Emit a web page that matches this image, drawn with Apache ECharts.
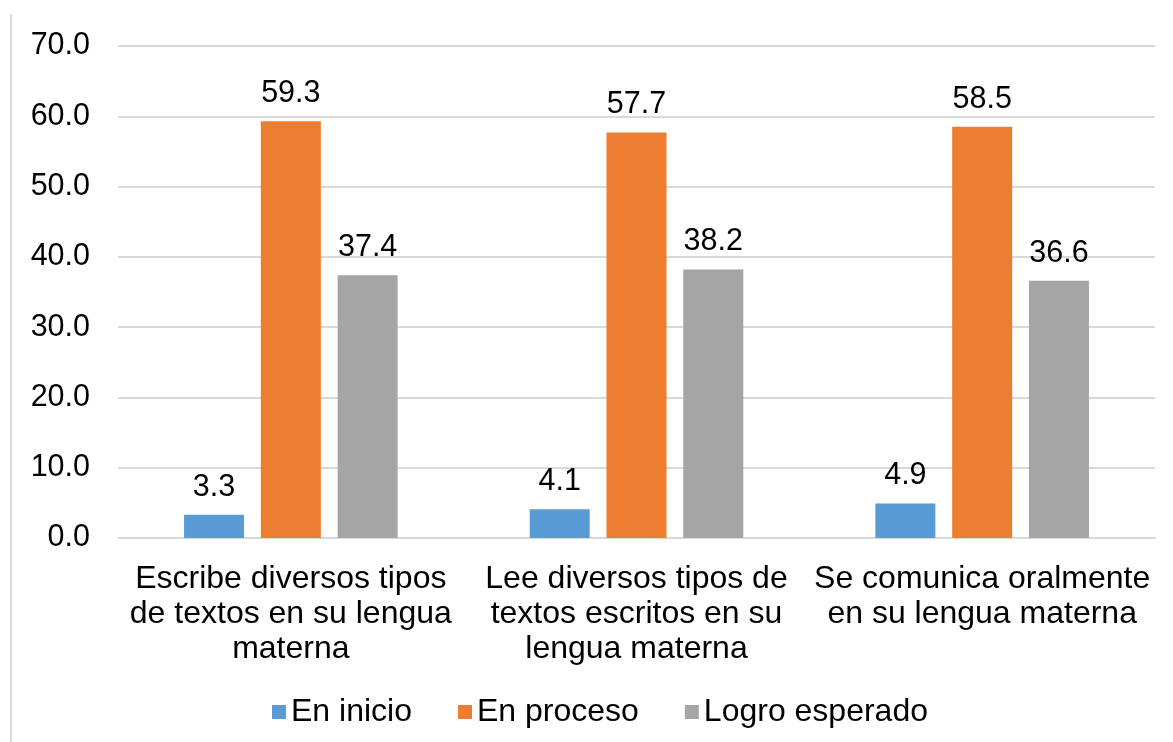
<!DOCTYPE html>
<html>
<head>
<meta charset="utf-8">
<script src="https://cdn.jsdelivr.net/npm/echarts@6/dist/echarts.min.js"></script>
<style>
  html, body { margin: 0; padding: 0; background: #fff; }
  #chart { width: 1173px; height: 742px; }
</style>
</head>
<body>
<div id="chart"></div>
<script>
const categories = [
    'Escribe diversos tipos\nde textos en su lengua\nmaterna',
    'Lee diversos tipos de\ntextos escritos en su\nlengua materna',
    'Se comunica oralmente\nen su lengua materna'
];
const seriesNames = ['En inicio', 'En proceso', 'Logro esperado'];
const enInicio    = [3.3, 4.1, 4.9];
const enProceso   = [59.3, 57.7, 58.5];
const logro       = [37.4, 38.2, 36.6];
const colors      = ['#5B9BD5', '#ED7D31', '#A5A5A5'];

const font = 'Liberation Sans, Arial, sans-serif';

const chart = echarts.init(document.getElementById('chart'), null, { renderer: 'canvas' });

const makeSeries = (name, data, color) => ({
    name,
    type: 'bar',
    data,
    barWidth: 60,
    barGap: '28%',
    itemStyle: { color },
    label: {
        show: true,
        position: 'top',
        distance: 12,
        color: '#000',
        fontFamily: font,
        fontSize: 30.5,
        formatter: (p) => p.value.toFixed(1)
    }
});

chart.setOption({
    animation: false,
    textStyle: { fontFamily: font },
    grid: { left: 118, right: 18, top: 46, bottom: 204 },
    legend: {
        bottom: 9,
        left: 267,
        itemWidth: 14,
        itemHeight: 14,
        itemGap: 46,
        icon: 'rect',
        textStyle: { fontFamily: font, fontSize: 32, color: '#000' },
        data: seriesNames
    },
    xAxis: {
        type: 'category',
        data: categories,
        axisLine: { lineStyle: { color: '#d9d9d9', width: 2 } },
        axisTick: { show: false },
        axisLabel: {
            margin: 24,
            color: '#000',
            fontFamily: font,
            fontSize: 32,
            lineHeight: 35,
            interval: 0
        }
    },
    yAxis: {
        type: 'value',
        min: 0,
        max: 70,
        interval: 10,
        axisLine: { show: false },
        axisTick: { show: false },
        splitLine: { lineStyle: { color: '#d9d9d9', width: 2 } },
        axisLabel: {
            margin: 28,
            color: '#000',
            fontFamily: font,
            fontSize: 30.5,
            formatter: (v) => v.toFixed(1)
        }
    },
    graphic: [{
        type: 'line',
        shape: { x1: 11, y1: 14, x2: 11, y2: 742 },
        style: { stroke: '#d9d9d9', lineWidth: 2 }
    }],
    series: [
        makeSeries(seriesNames[0], enInicio, colors[0]),
        makeSeries(seriesNames[1], enProceso, colors[1]),
        makeSeries(seriesNames[2], logro, colors[2])
    ]
});
</script>
</body>
</html>
